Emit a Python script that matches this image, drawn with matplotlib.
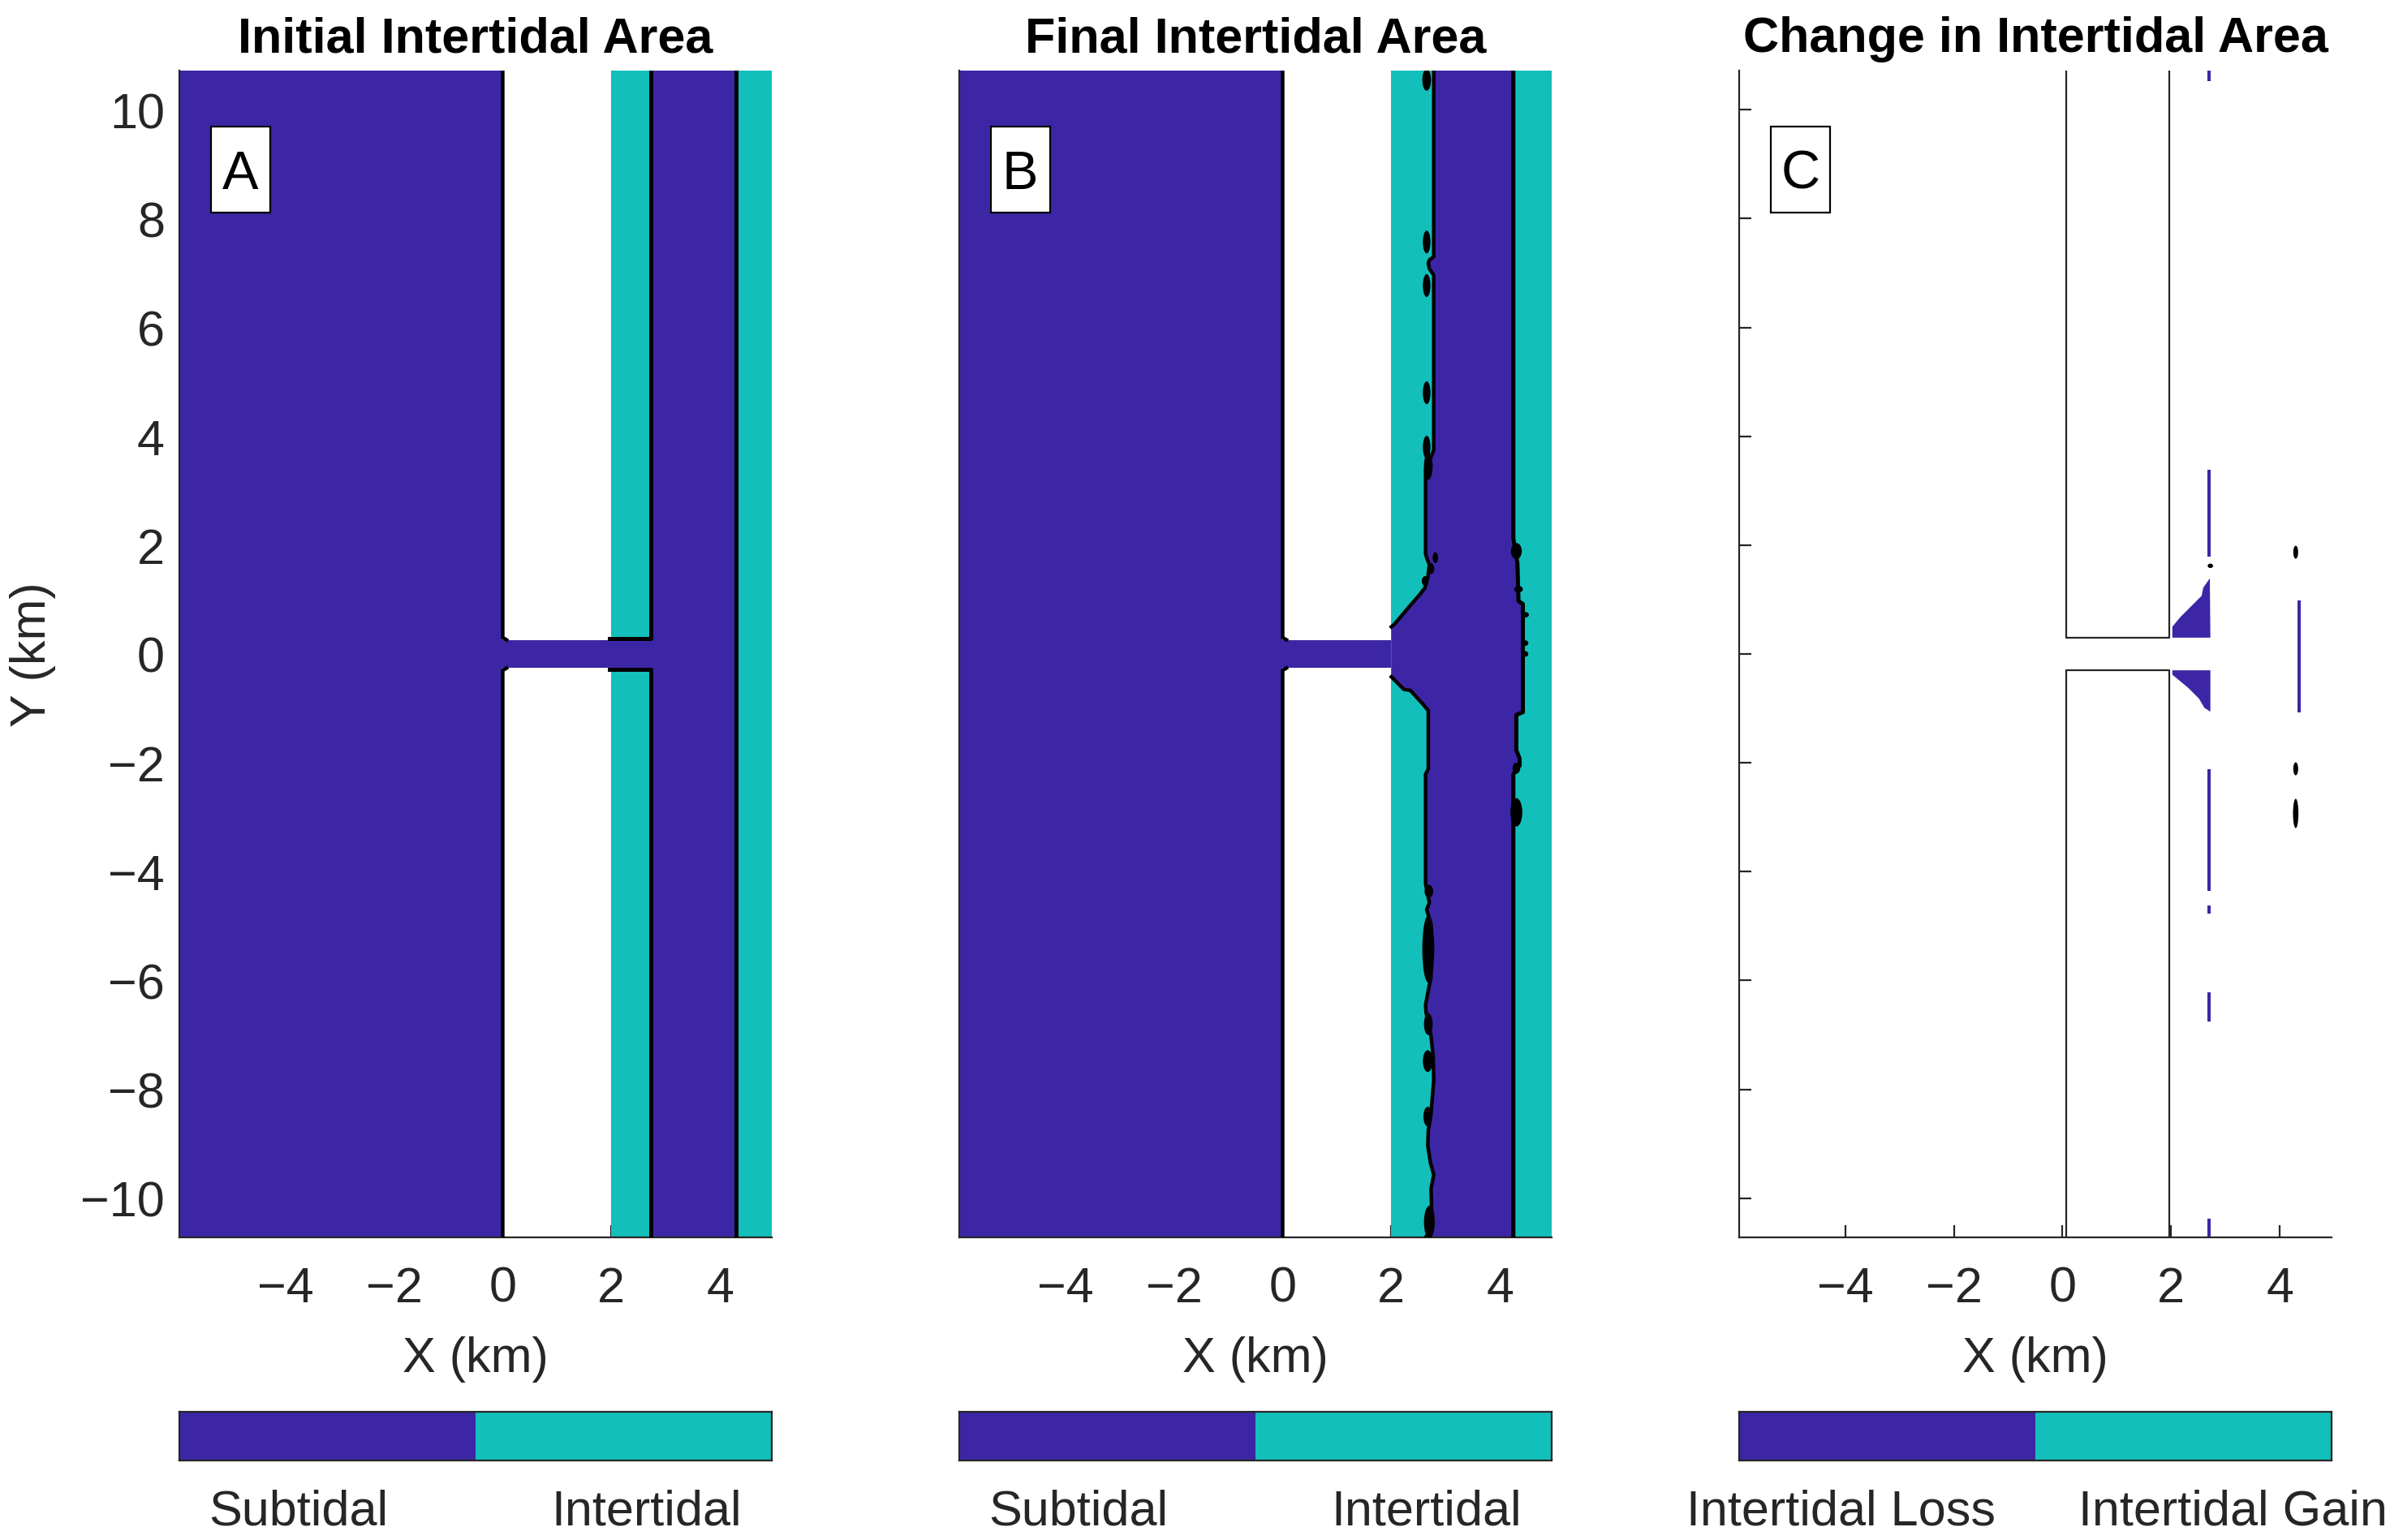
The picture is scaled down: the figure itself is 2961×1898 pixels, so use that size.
import matplotlib
matplotlib.use('Agg')
import matplotlib.pyplot as plt
import numpy as np
from matplotlib.colors import ListedColormap
from matplotlib.patches import Ellipse, Rectangle

plt.rcParams['font.family'] = ['Liberation Sans', 'DejaVu Sans']

W, H = 2961, 1899
purple = '#3d26a6'
teal = '#13bfba'
dark = '#262626'

# domain (km)
x_min, x_max = -5.95, 4.95
y_min, y_max = -10.72, 10.72
x_ticks = [-4, -2, 0, 2, 4]
y_ticks = [-10, -8, -6, -4, -2, 0, 2, 4, 6, 8, 10]

titles = ['Initial Intertidal Area', 'Final Intertidal Area', 'Change in Intertidal Area']
letters = ['A', 'B', 'C']
bar_labels = [('Subtidal', 'Intertidal'), ('Subtidal', 'Intertidal'), ('Intertidal Loss', 'Intertidal Gain')]
bar_values = [0, 1]

# fixed geometry of the basin
coast_x = 2.0
channel_y = 0.25
init_west = 2.72
init_east = 4.29

# final contour
west_north_x = [2.78, 2.78, 2.70, 2.68, 2.70, 2.78, 2.78, 2.70, 2.63, 2.63, 2.66, 2.70, 2.67, 2.62, 2.53, 2.33, 2.06, 2.00]
west_north_y = [10.72, 7.30, 7.24, 7.18, 7.08, 6.96, 3.75, 3.55, 3.40, 1.84, 1.74, 1.64, 1.40, 1.22, 1.10, 0.87, 0.55, 0.50]
west_south_x = [2.00, 2.23, 2.35, 2.58, 2.68, 2.68, 2.63, 2.63, 2.70, 2.65, 2.73, 2.73, 2.68, 2.63, 2.64, 2.68, 2.73, 2.77, 2.78, 2.73, 2.68, 2.67, 2.72, 2.78, 2.73, 2.75, 2.72, 2.63]
west_south_y = [-0.42, -0.65, -0.67, -0.92, -1.04, -2.11, -2.21, -4.22, -4.57, -4.70, -4.96, -5.94, -6.18, -6.45, -6.60, -6.74, -7.02, -7.40, -7.83, -8.45, -8.75, -9.03, -9.35, -9.57, -9.83, -10.45, -10.60, -10.72]
east_x = [4.245, 4.245, 4.32, 4.34, 4.42, 4.42, 4.30, 4.30, 4.36, 4.36, 4.245, 4.245]
east_y = [10.72, 2.12, 1.67, 0.97, 0.92, -1.07, -1.12, -1.77, -1.92, -2.05, -2.21, -10.72]

# small closed contours (x, y, half width, half height)
blobs_b = [
    (2.65, 10.55, 0.08, 0.20), (2.65, 7.57, 0.07, 0.21), (2.65, 6.77, 0.07, 0.21),
    (2.65, 4.80, 0.07, 0.21), (2.65, 3.80, 0.07, 0.21), (2.68, 3.45, 0.08, 0.25),
    (2.81, 1.77, 0.05, 0.10), (2.73, 1.57, 0.06, 0.10), (2.62, 1.34, 0.06, 0.09),
    (4.30, 1.89, 0.10, 0.15), (4.34, 1.19, 0.08, 0.06), (4.47, 0.72, 0.06, 0.05),
    (4.47, 0.20, 0.05, 0.05), (4.47, 0.00, 0.05, 0.05), (4.30, -2.10, 0.07, 0.10),
    (4.30, -2.91, 0.11, 0.26), (2.69, -4.36, 0.08, 0.12), (2.68, -5.42, 0.11, 0.62),
    (2.68, -6.80, 0.08, 0.20), (2.67, -7.48, 0.09, 0.20), (2.67, -8.50, 0.08, 0.18),
    (2.70, -10.44, 0.10, 0.30),
]
blobs_c = [(4.29, 1.87, 0.045, 0.12), (4.29, -2.11, 0.045, 0.12), (4.29, -2.93, 0.05, 0.27), (2.72, 1.62, 0.05, 0.04)]

# loss areas in panel C
loss_north_x = [2.02, 2.02, 2.16, 2.36, 2.56, 2.59, 2.71, 2.72]
loss_north_y = [0.30, 0.50, 0.67, 0.87, 1.07, 1.22, 1.39, 0.30]
loss_south_x = [2.02, 2.02, 2.31, 2.51, 2.61, 2.72, 2.72]
loss_south_y = [-0.30, -0.38, -0.62, -0.82, -0.99, -1.06, -0.30]
strip_west = (2.66, 2.72)
strip_west_y = [(3.38, 1.79), (-2.11, -4.35), (-4.62, -4.77), (-6.21, -6.75), (-10.37, -10.72), (10.72, 10.52)]
strip_east = (4.33, 4.38)
strip_east_y = [(0.99, -1.07)]

# pixel boxes of the panels
panel_left = [221, 1182, 2143]
panel_width = 730
panel_top, panel_bottom = 88, 1526
bar_top, bar_bottom = 1741, 1801
label_centers = [(147, 576), (147, 576), (125, 608)]


def add_px_axes(left, top, width, height):
    return fig.add_axes([left / W, 1 - (top + height) / H, width / W, height / H])


def draw_blobs(ax, blobs):
    for bx, by, hw, hh in blobs:
        ax.add_patch(Ellipse((bx, by), 2 * hw, 2 * hh, fc='k', ec='none', zorder=4))


def draw_base(ax):
    ax.fill_betweenx([y_min, y_max], x_min, 0, color=purple, lw=0, zorder=1)
    ax.fill_betweenx([-channel_y, channel_y], 0, coast_x, color=purple, lw=0, zorder=1)
    ax.fill_betweenx([y_min, y_max], coast_x, x_max, color=teal, lw=0, zorder=1)
    # open coast line at x=0
    for s in (1, -1):
        ax.plot([0.07, 0, 0], [s * 0.26, s * 0.30, s * y_max], color='k', lw=3.2, zorder=3, solid_joinstyle='round')


fig = plt.figure(figsize=(W / 100, H / 100), dpi=100, facecolor='white')

for i in range(3):
    ax = add_px_axes(panel_left[i], panel_top, panel_width, panel_bottom - panel_top)
    ax.set_xlim(x_min, x_max)
    ax.set_ylim(y_min, y_max)
    ax.set_axisbelow(True)
    for side in ('top', 'right'):
        ax.spines[side].set_visible(False)
    for side in ('left', 'bottom'):
        ax.spines[side].set_linewidth(1.6)
        ax.spines[side].set_color(dark)
    ax.set_xticks(x_ticks)
    ax.set_yticks(y_ticks)
    ax.tick_params(direction='in', length=11, width=1.6, color=dark, labelsize=44, labelcolor=dark)
    ax.tick_params(axis='x', pad=25)
    ax.tick_params(axis='y', pad=13)
    ax.set_xlabel('X (km)', fontsize=44, color=dark, labelpad=21)
    if i == 0:
        ax.set_ylabel('Y (km)', fontsize=44, color=dark, labelpad=22)
    else:
        ax.set_yticklabels([])
    ax.set_title(titles[i], fontsize=44, fontweight='bold', color='k', pad=17)

    if i == 0:
        draw_base(ax)
        ax.fill_betweenx([y_min, y_max], init_west, init_east, color=purple, lw=0, zorder=2)
        ax.fill_betweenx([-channel_y - 0.03, channel_y + 0.03], coast_x, init_west, color=purple, lw=0, zorder=2)
        for s in (1, -1):
            ax.plot([1.97, init_west, init_west], [s * 0.28, s * 0.28, s * y_max], color='k', lw=3.6, zorder=3)
        ax.plot([init_east, init_east], [y_min, y_max], color='k', lw=3.6, zorder=3)
    elif i == 1:
        draw_base(ax)
        poly_x = west_north_x + west_south_x + east_x[::-1]
        poly_y = west_north_y + west_south_y + east_y[::-1]
        ax.fill(poly_x, poly_y, color=purple, lw=0, zorder=2)
        ax.plot(west_north_x, west_north_y, color='k', lw=3.2, zorder=3, solid_joinstyle='round')
        ax.plot(west_south_x, west_south_y, color='k', lw=3.2, zorder=3, solid_joinstyle='round')
        ax.plot(east_x, east_y, color='k', lw=3.6, zorder=3, solid_joinstyle='round')
        draw_blobs(ax, blobs_b)
    else:
        for s in (1, -1):
            ax.plot([0.07, 0.07, 1.97, 1.97], [s * y_max, s * 0.30, s * 0.30, s * y_max], color=dark, lw=1.6, zorder=3)
        ax.fill(loss_north_x, loss_north_y, color=purple, lw=0, zorder=2)
        ax.fill(loss_south_x, loss_south_y, color=purple, lw=0, zorder=2)
        for y0, y1 in strip_west_y:
            ax.fill_betweenx([y0, y1], strip_west[0], strip_west[1], color=purple, lw=0, zorder=2)
        for y0, y1 in strip_east_y:
            ax.fill_betweenx([y0, y1], strip_east[0], strip_east[1], color=purple, lw=0, zorder=2)
        draw_blobs(ax, blobs_c)

    # panel letter
    ax.add_patch(Rectangle((0.053, 0.878), 0.100, 0.074, transform=ax.transAxes, fc='white', ec='k', lw=1.6, zorder=6))
    ax.text(0.103, 0.911, letters[i], transform=ax.transAxes, fontsize=48, color='k', ha='center', va='center', zorder=7)

    # colour key below the panel
    cax = add_px_axes(panel_left[i], bar_top, panel_width, bar_bottom - bar_top)
    cax.pcolormesh([0, 1, 2], [0, 1], np.array([bar_values]), cmap=ListedColormap([purple, teal]))
    cax.set_xticks([])
    cax.set_yticks([])
    for sp in cax.spines.values():
        sp.set_linewidth(1.6)
        sp.set_color(dark)
    for c, lab in zip(label_centers[i], bar_labels[i]):
        fig.text((panel_left[i] + c) / W, 1 - 1880 / H, lab, fontsize=44, color=dark, ha='center', va='baseline')

fig.savefig('out.png', dpi=100)
